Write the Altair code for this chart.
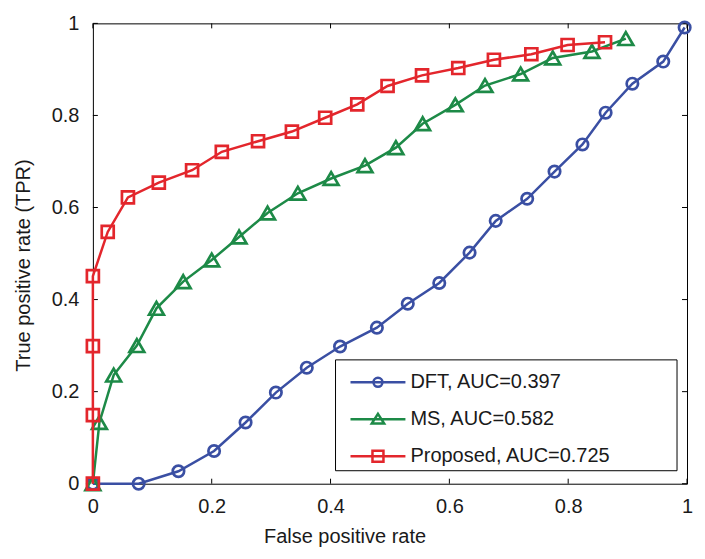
import altair as alt
import pandas as pd

# ---- data ----
dft_x = [0, 0.077, 0.144, 0.204, 0.257, 0.308, 0.360, 0.416, 0.478, 0.530,
         0.583, 0.634, 0.678, 0.731, 0.777, 0.824, 0.863, 0.908, 0.960, 0.996]
dft_y = [0, 0, 0.027, 0.071, 0.133, 0.198, 0.252, 0.298, 0.339, 0.391,
         0.436, 0.502, 0.571, 0.619, 0.678, 0.737, 0.806, 0.869, 0.917, 0.991]

ms_x = [0, 0.011, 0.035, 0.074, 0.107, 0.152, 0.200, 0.246, 0.294, 0.345,
        0.401, 0.458, 0.510, 0.555, 0.610, 0.660, 0.720, 0.774, 0.840, 0.897]
ms_y = [0, 0.133, 0.236, 0.300, 0.381, 0.439, 0.486, 0.536, 0.588, 0.631,
        0.663, 0.691, 0.730, 0.782, 0.823, 0.865, 0.890, 0.925, 0.939, 0.967]

prop_x = [0, 0, 0, 0, 0.025, 0.059, 0.111, 0.167, 0.217, 0.278,
          0.335, 0.391, 0.445, 0.496, 0.554, 0.615, 0.675, 0.738, 0.799, 0.862]
prop_y = [0, 0.149, 0.299, 0.451, 0.547, 0.622, 0.654, 0.681, 0.721, 0.744,
          0.765, 0.795, 0.824, 0.864, 0.887, 0.903, 0.921, 0.933, 0.953, 0.959]

labels = ["DFT, AUC=0.397", "MS, AUC=0.582", "Proposed, AUC=0.725"]
colors = ["#3a4fa3", "#1d8a47", "#e3262c"]
markers = ["circle", "triangle-up", "square"]
tick_vals = [0, 0.2, 0.4, 0.6, 0.8, 1]

# legend glyphs: line with marker (line passes through marker)
legend_paths = [
    "M-2.75,0H2.75M0.45,0A0.45,0.45 0 1 1 -0.45,0A0.45,0.45 0 1 1 0.45,0Z",
    "M-2.75,0H2.75M0,-0.55L0.62,0.42L-0.62,0.42Z",
    "M-2.75,0H2.75M-0.55,-0.55H0.55V0.55H-0.55Z",
]

rows = []
for name, xs, ys in zip(labels, [dft_x, ms_x, prop_x], [dft_y, ms_y, prop_y]):
    for i, (x, y) in enumerate(zip(xs, ys)):
        rows.append({"series": name, "i": i, "fpr": x, "tpr": y})
df = pd.DataFrame(rows)
ticks_df = pd.DataFrame({"t": tick_vals})

W, H = 595, 461
FONT = "Liberation Sans"
TXT = "#1a1a1a"

xscale = alt.Scale(domain=[0, 1], nice=False, zero=False)
yscale = alt.Scale(domain=[0, 1], nice=False, zero=False)

x_axis = alt.Axis(values=tick_vals, format="~g", ticks=False, domain=False, grid=False,
                  labelFont=FONT, labelFontSize=20, labelColor=TXT, labelPadding=13,
                  labelFlush=False, labelOverlap=False,
                  title="False positive rate", titleFont=FONT, titleFontSize=20,
                  titleFontWeight="normal", titleColor=TXT, titlePadding=10,
                  titleX=252, titleAlign="center")
y_axis = alt.Axis(values=tick_vals, format="~g", ticks=False, domain=False, grid=False,
                  labelFont=FONT, labelFontSize=20, labelColor=TXT, labelPadding=14,
                  labelFlush=False, labelOverlap=False,
                  title="True positive rate (TPR)", titleFont=FONT, titleFontSize=20,
                  titleFontWeight="normal", titleColor=TXT, titlePadding=18,
                  titleY=242, titleAlign="center")

X = alt.X("fpr:Q", scale=xscale, axis=x_axis)
Y = alt.Y("tpr:Q", scale=yscale, axis=y_axis)

layers = []

# inward tick marks on all four sides
tick_base = alt.Chart(ticks_df).mark_rule(color="black", strokeWidth=1)
layers.append(tick_base.encode(x=alt.X("t:Q", scale=xscale, axis=x_axis),
                               y=alt.value(H), y2=alt.value(H - 5)))
layers.append(tick_base.encode(x=alt.X("t:Q", scale=xscale, axis=x_axis),
                               y=alt.value(0), y2=alt.value(5)))
layers.append(tick_base.encode(y=alt.Y("t:Q", scale=yscale, axis=y_axis),
                               x=alt.value(0), x2=alt.value(5)))
layers.append(tick_base.encode(y=alt.Y("t:Q", scale=yscale, axis=y_axis),
                               x=alt.value(W), x2=alt.value(W - 5)))

sizes = [130, 220, 144]
for name, col, mk, sz in zip(labels, colors, markers, sizes):
    base = alt.Chart(df).transform_filter(alt.datum.series == name)
    layers.append(base.mark_line(color=col, strokeWidth=2.5, clip=False).encode(
        x=X, y=Y, order=alt.Order("i:Q")))
    layers.append(base.mark_point(shape=mk, color=col, filled=False, size=sz,
                                  strokeWidth=2.7, opacity=1, clip=False).encode(x=X, y=Y))

# legend frame (white box with black border) behind the legend entries
layers.append(alt.Chart(pd.DataFrame({"k": [0]})).mark_rect(
    fill="white", stroke="black", strokeWidth=1).encode(
    x=alt.value(243), x2=alt.value(585), y=alt.value(337), y2=alt.value(448)))

# invisible layer that only provides the legend
legend = alt.Legend(
    title=None, orient="none", legendX=243, legendY=339,
    labelFont=FONT, labelFontSize=20, labelColor=TXT, labelLimit=1000,
    symbolSize=400, symbolStrokeWidth=2.5, symbolOpacity=1,
    symbolOffset=22, labelOffset=21,
    rowPadding=15, padding=9,
)
layers.append(alt.Chart(df).mark_point(filled=False, opacity=0, clip=False).encode(
    x=X, y=Y,
    color=alt.Color("series:N", scale=alt.Scale(domain=labels, range=colors), legend=legend),
    shape=alt.Shape("series:N", scale=alt.Scale(domain=labels, range=legend_paths), legend=legend),
))

chart = alt.layer(*layers).properties(
    width=W, height=H,
    padding={"left": 85, "top": 15, "right": 10, "bottom": 72},
    autosize=alt.AutoSizeParams(type="none"),
    background="white",
).configure_view(stroke="black", strokeWidth=1)

chart.save("out.html", embed_options={"renderer": "svg", "actions": False})
